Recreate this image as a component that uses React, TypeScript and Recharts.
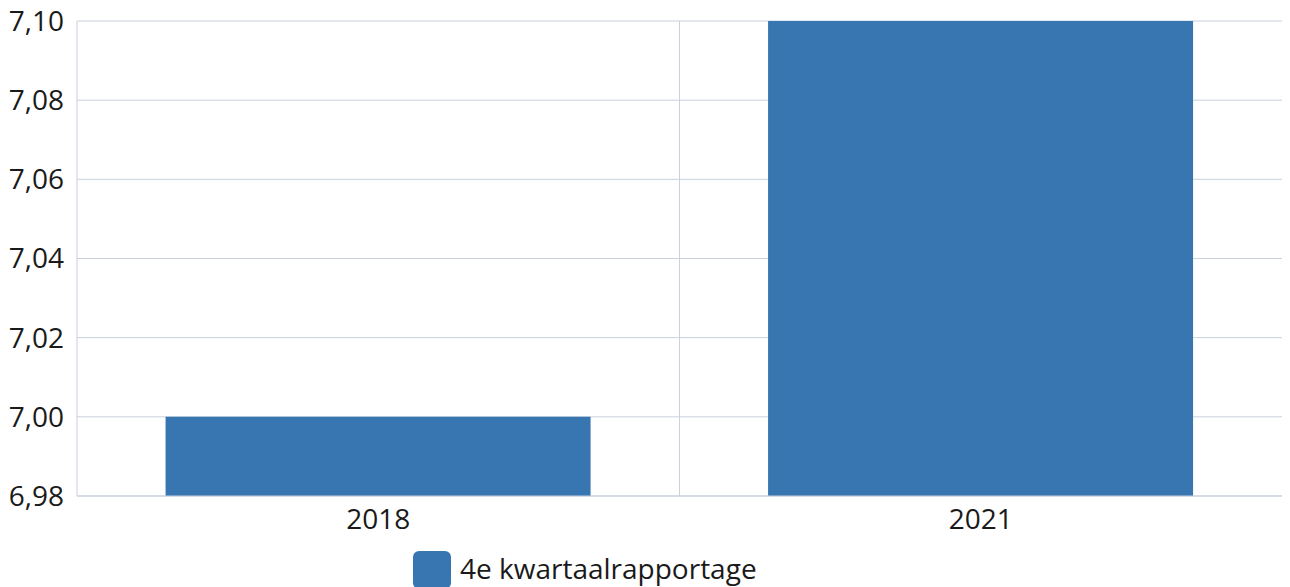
import { BarChart, Bar, XAxis, YAxis, CartesianGrid, Legend } from "recharts";

const years = ["2018", "2021"];
const kwartaal = [7.0, 7.1];
const yTicks = [6.98, 7.0, 7.02, 7.04, 7.06, 7.08, 7.1];
const seriesName = "4e kwartaalrapportage";

const data = years.map((year, i) => ({ year, value: kwartaal[i] }));

const font = "'Open Sans', 'Noto Sans', sans-serif";
const gridColor = "#c9d1dd";
const barColor = "#3776b1";

const fmt = (v: number) => v.toFixed(2).replace(".", ",");

function LegendContent(props: any) {
  const items = props.payload || [];
  return (
    <div style={{ display: "flex", alignItems: "flex-start", fontFamily: font }}>
      {items.map((it: any) => (
        <div key={it.value} style={{ display: "flex", alignItems: "flex-start" }}>
          <span
            style={{
              width: 38,
              height: 38,
              borderRadius: 6,
              background: it.color,
              display: "inline-block",
              marginRight: 9,
            }}
          />
          <span
            style={{
              fontSize: 28,
              lineHeight: "34px",
              color: "#1a1a1a",
              whiteSpace: "nowrap",
            }}
          >
            {it.value}
          </span>
        </div>
      ))}
    </div>
  );
}

export default function App() {
  return (
    <div style={{ width: 1290, height: 587, overflow: "hidden", background: "#fff" }}>
      <style>{`body{margin:0}`}</style>
      <BarChart
        width={1290}
        height={587}
        data={data}
        margin={{ top: 21, right: 8, left: 0, bottom: 0 }}
        barCategoryGap="14.7%"
      >
        <CartesianGrid
          stroke={gridColor}
          verticalCoordinatesGenerator={({ offset }: any) => [offset.left + offset.width / 2]}
        />
        <XAxis
          dataKey="year"
          height={55}
          tickLine={false}
          tickSize={6}
          tickMargin={7}
          axisLine={{ stroke: gridColor }}
          tick={{ fontSize: 28, fill: "#1a1a1a", fontFamily: font }}
        />
        <YAxis
          width={77}
          domain={[6.98, 7.1]}
          ticks={yTicks}
          interval={0}
          tickFormatter={fmt}
          tickLine={false}
          tickSize={6}
          tickMargin={7}
          axisLine={{ stroke: gridColor }}
          tick={{ fontSize: 28, fill: "#1a1a1a", fontFamily: font }}
        />
        <Legend
          verticalAlign="bottom"
          align="left"
          height={36}
          wrapperStyle={{ left: 413 }}
          content={<LegendContent />}
        />
        <Bar dataKey="value" name={seriesName} fill={barColor} isAnimationActive={false} />
      </BarChart>
    </div>
  );
}
